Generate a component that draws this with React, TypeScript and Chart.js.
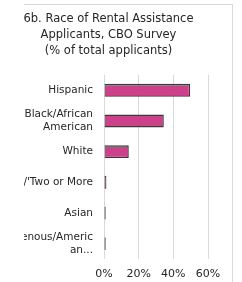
import React, { useEffect, useRef } from "react";
import { Chart, registerables } from "chart.js";

Chart.register(...registerables);

const categories: (string | string[])[] = [
  "Hispanic",
  ["Black/African", "American"],
  "White",
  "Multiracial/'Two or More",
  "Asian",
  ["Indigenous/Americ", "an..."],
];
const values: number[] = [49.7, 34.5, 14.3, 1.4, 1.0, 1.0];
const titleLines: string[] = [
  "6b. Race of Rental Assistance",
  "Applicants, CBO Survey",
  "(% of total applicants)",
];
const xTicks: number[] = [0, 20, 40, 60];

const FONT = "'DejaVu Sans', sans-serif";
const H = 290;

export default function App() {
  const ref = useRef<HTMLCanvasElement | null>(null);
  useEffect(() => {
    if (!ref.current) return;
    const chart = new Chart(ref.current, {
      type: "bar",
      data: {
        labels: categories,
        datasets: [
          {
            data: values,
            backgroundColor: (ctx: any) =>
              ctx.raw <= 1 ? "#333333" : ctx.raw < 2 ? "#7a2853" : "#cc4189",
            borderColor: "#3a3a3a",
            borderWidth: 1.5,
            borderSkipped: "start",
            barPercentage: 0.42,
            categoryPercentage: 1,
          },
        ],
      },
      options: {
        indexAxis: "y",
        responsive: false,
        animation: false,
        layout: { padding: { left: 24, right: 24, top: 0, bottom: 0 } },
        plugins: {
          legend: { display: false },
          tooltip: { enabled: false },
          title: {
            display: true,
            text: titleLines,
            color: "#262626",
            font: { family: FONT, size: 11.5, weight: "normal", lineHeight: 1.39 },
            padding: { top: 6, bottom: 16 },
          },
        },
        scales: {
          x: {
            min: 0,
            max: 60,
            afterBuildTicks: (s: any) => {
              s.ticks = xTicks.map((v) => ({ value: v }));
            },
            ticks: {
              callback: (v: any) => `${v}%`,
              color: "#262626",
              font: { family: FONT, size: 11 },
              padding: 9,
            },
            grid: { color: "#d9d9d9", drawTicks: false, lineWidth: 1 },
            border: { display: false },
            afterFit: (s: any) => {
              s.height = H - 254;
            },
          },
          y: {
            ticks: {
              color: "#262626",
              font: { family: FONT, size: 10.5 },
              padding: 11,
              autoSkip: false,
            },
            grid: { display: false, drawTicks: false },
            border: { display: false },
            afterFit: (s: any) => {
              s.width = 95;
            },
          },
        },
      },
    });
    return () => chart.destroy();
  }, []);

  return (
    <div
      style={{
        position: "fixed",
        left: 24,
        top: 0,
        width: 218,
        height: 282,
        overflow: "hidden",
        background: "#fff",
      }}
    >
      <div
        style={{
          position: "absolute",
          left: -40,
          top: 4,
          width: 249,
          height: H + 2,
          border: "1px solid #d9d9d9",
          boxSizing: "border-box",
          background: "#fff",
        }}
      >
        <canvas ref={ref} width={247} height={H} style={{ display: "block" }} />
      </div>
    </div>
  );
}
